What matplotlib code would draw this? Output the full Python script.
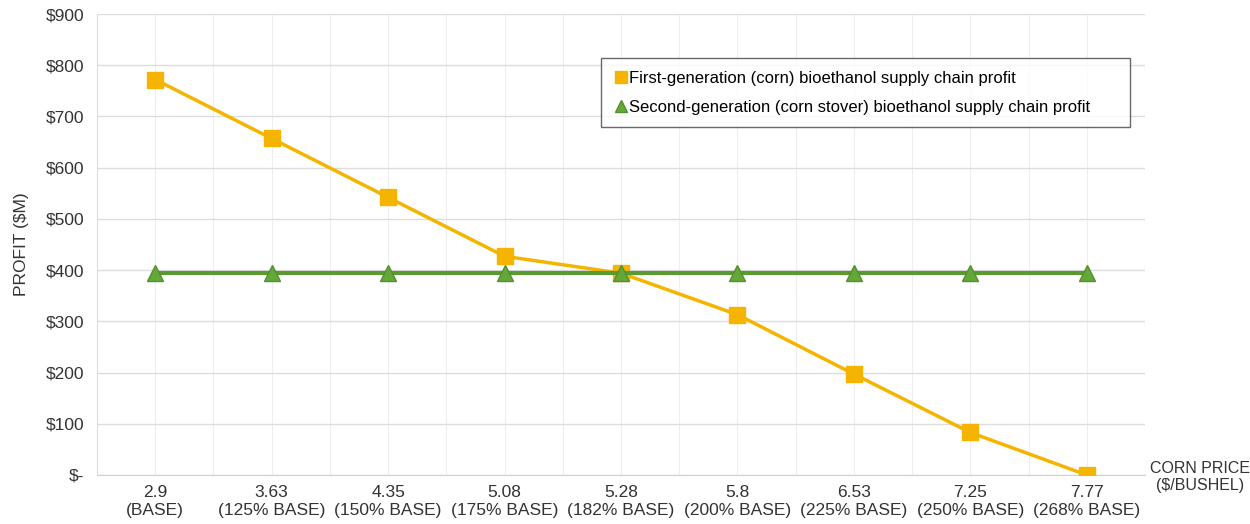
import matplotlib.pyplot as plt
import numpy as np

plt.rcParams['font.family'] = ['Liberation Sans', 'DejaVu Sans']

# corn price scenarios
prices = ['2.9', '3.63', '4.35', '5.08', '5.28', '5.8', '6.53', '7.25', '7.77']
pct_base = ['BASE', '125% BASE', '150% BASE', '175% BASE', '182% BASE',
            '200% BASE', '225% BASE', '250% BASE', '268% BASE']

# supply chain profit, $M
first_gen = [772, 657, 542, 427, 394, 313, 197, 83, 0]
second_gen = [394, 394, 394, 394, 394, 394, 394, 394, 394]

x = np.arange(len(prices))
tick_labels = [p + '\n(' + b + ')' for p, b in zip(prices, pct_base)]

fig = plt.figure(figsize=(12.5, 5.24), dpi=100)
ax = fig.add_axes([97 / 1250, 1 - 475 / 524, 1048 / 1250, 461 / 524])

ax.plot(x, first_gen, color='#f4b400', lw=2.5, marker='s', ms=11,
        label='First-generation (corn) bioethanol supply chain profit', zorder=3)
ax.plot(x, second_gen, color='#5b9a33', lw=3, marker='^', ms=11,
        markerfacecolor='#64a83a', markeredgecolor='#558f30',
        label='Second-generation (corn stover) bioethanol supply chain profit', zorder=3)

ax.set_xlim(-0.5, len(prices) - 0.5)
ax.set_ylim(0, 900)
ax.set_yticks(np.arange(0, 901, 100))
ax.set_yticklabels(['$-'] + ['$%d' % v for v in range(100, 901, 100)])
ax.set_xticks(x)
ax.set_xticklabels(tick_labels, fontsize=12.5, linespacing=1.3)
ax.set_xticks(np.arange(-0.5, len(prices), 1), minor=True)
ax.tick_params(axis='y', labelsize=12.5, length=0, pad=9, colors='#333333')
ax.tick_params(axis='x', length=0, pad=7, colors='#333333', which='both')

ax.grid(axis='y', color='#dddddd', lw=1)
ax.grid(axis='x', which='both', color='#eeeeee', lw=0.8)
ax.set_axisbelow(True)
for s in ['top', 'right']:
    ax.spines[s].set_visible(False)
ax.spines['left'].set_color('#dddddd')
ax.spines['bottom'].set_color('#d0d0d0')

ax.set_ylabel('PROFIT ($M)', fontsize=12.5, color='#333333', labelpad=12)
fig.text(1200 / 1250, 1 - 477 / 524, 'CORN PRICE\n($/BUSHEL)', ha='center', va='center',
         fontsize=11.5, color='#333333', linespacing=1.15)

# legend box stretched to a fixed width
leg_box = ((601 - 97) / 1048, (475 - 126) / 461, (1130 - 601) / 1048, 68 / 461)
leg = ax.legend(loc='upper left', bbox_to_anchor=leg_box, mode='expand',
                fontsize=12, frameon=True, fancybox=False, edgecolor='#444444',
                handlelength=0.9, handletextpad=0.05, borderpad=0.75, labelspacing=0.85,
                markerscale=0.75, borderaxespad=0)
leg.get_frame().set_linewidth(1.0)
for h in leg.legend_handles:
    h.set_linewidth(0)

fig.savefig('out.png', dpi=100)
